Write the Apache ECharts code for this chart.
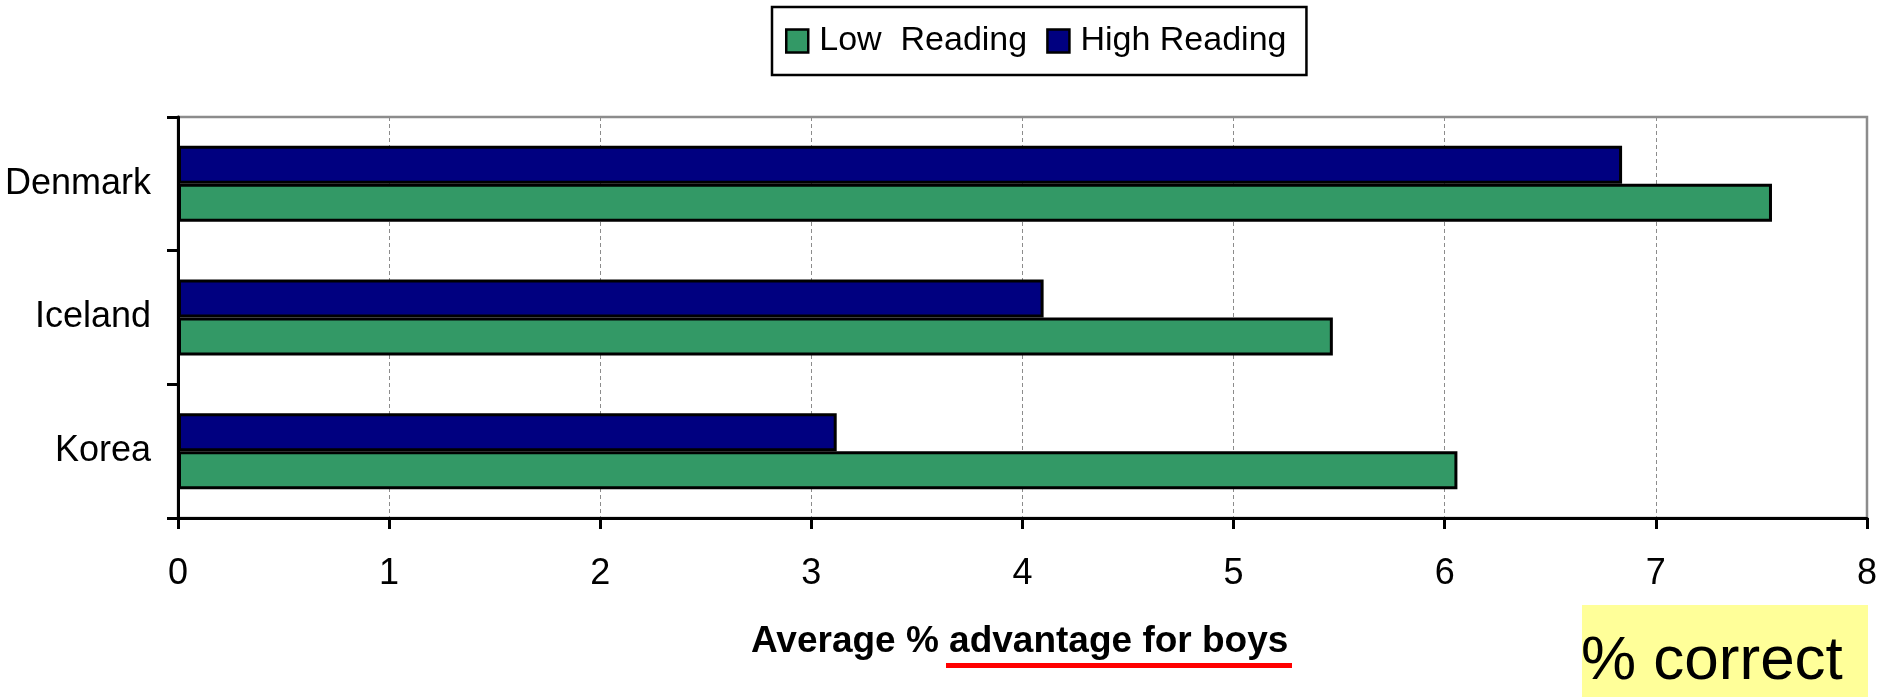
<!DOCTYPE html>
<html>
<head>
<meta charset="utf-8">
<style>
  html, body { margin: 0; padding: 0; background: #fff; }
  #chart { width: 1880px; height: 697px; }
</style>
<script src="https://cdn.jsdelivr.net/npm/echarts@6/dist/echarts.min.js"></script>
</head>
<body>
<div id="chart"></div>
<script>
// Countries, listed bottom-to-top along the category axis
const countries = ['Korea', 'Iceland', 'Denmark'];
// Average % advantage for boys
const lowReading = [6.06, 5.47, 7.55];
const highReading = [3.12, 4.10, 6.84];
const xTicks = [0, 1, 2, 3, 4, 5, 6, 7, 8];

const seriesNames = ['Low  Reading', 'High Reading'];
const FONT = "'Liberation Sans', Arial, sans-serif";

const chart = echarts.init(document.getElementById('chart'), null, { renderer: 'canvas' });

chart.setOption({
  animation: false,
  backgroundColor: '#ffffff',
  grid: {
    left: 178, right: 8, top: 117, bottom: 179,
    show: true,
    borderColor: '#8c8c8c',
    borderWidth: 2.5,
    backgroundColor: 'transparent'
  },
  legend: {
    data: seriesNames,
    left: 772,
    top: 7,
    orient: 'horizontal',
    padding: [17, 20, 17, 13],
    borderColor: '#000',
    borderWidth: 2.5,
    itemWidth: 22,
    itemHeight: 23,
    itemGap: 19,
    icon: 'rect',
    itemStyle: { borderColor: '#000', borderWidth: 2.5 },
    textStyle: {
      fontFamily: FONT, fontSize: 34, color: '#000',
      lineHeight: 34, padding: [0, 0, 0, 6]
    },
    selectedMode: false
  },
  xAxis: {
    type: 'value',
    min: xTicks[0],
    max: xTicks[xTicks.length - 1],
    interval: 1,
    axisLine: { show: true, lineStyle: { color: '#000', width: 3 } },
    axisTick: { show: true, length: 11, lineStyle: { color: '#000', width: 3 } },
    axisLabel: { fontFamily: FONT, fontSize: 36, color: '#000', margin: 38 },
    splitLine: { show: true, lineStyle: { color: '#8c8c8c', width: 1, type: [4, 3] } }
  },
  yAxis: {
    type: 'category',
    data: countries,
    axisLine: { show: true, lineStyle: { color: '#000', width: 3 } },
    axisTick: { show: true, length: 11, lineStyle: { color: '#000', width: 3 } },
    axisLabel: { fontFamily: FONT, fontSize: 36, color: '#000', margin: 27 },
    splitLine: { show: false }
  },
  series: [
    {
      name: seriesNames[1],
      type: 'bar',
      data: highReading,
      barWidth: 38,
      barGap: '0%',
      itemStyle: { color: '#000080', borderColor: '#000', borderWidth: 3 }
    },
    {
      name: seriesNames[0],
      type: 'bar',
      data: lowReading,
      barWidth: 38,
      barGap: '0%',
      itemStyle: { color: '#339966', borderColor: '#000', borderWidth: 3 }
    }
  ],
  graphic: [
    {
      type: 'text',
      left: 751,
      top: 623,
      style: {
        text: 'Average % advantage for boys',
        fontFamily: FONT,
        fontWeight: 'bold',
        fontSize: 37,
        fill: '#000'
      }
    },
    {
      type: 'rect',
      shape: { x: 946, y: 663, width: 346, height: 5 },
      style: { fill: '#ff0000' }
    },
    {
      type: 'rect',
      shape: { x: 1582, y: 605, width: 286, height: 92 },
      style: { fill: '#ffff99' }
    },
    {
      type: 'text',
      left: 1581,
      top: 631,
      style: {
        text: '% correct',
        fontFamily: FONT,
        fontSize: 62,
        fill: '#000'
      }
    }
  ]
});
</script>
</body>
</html>
